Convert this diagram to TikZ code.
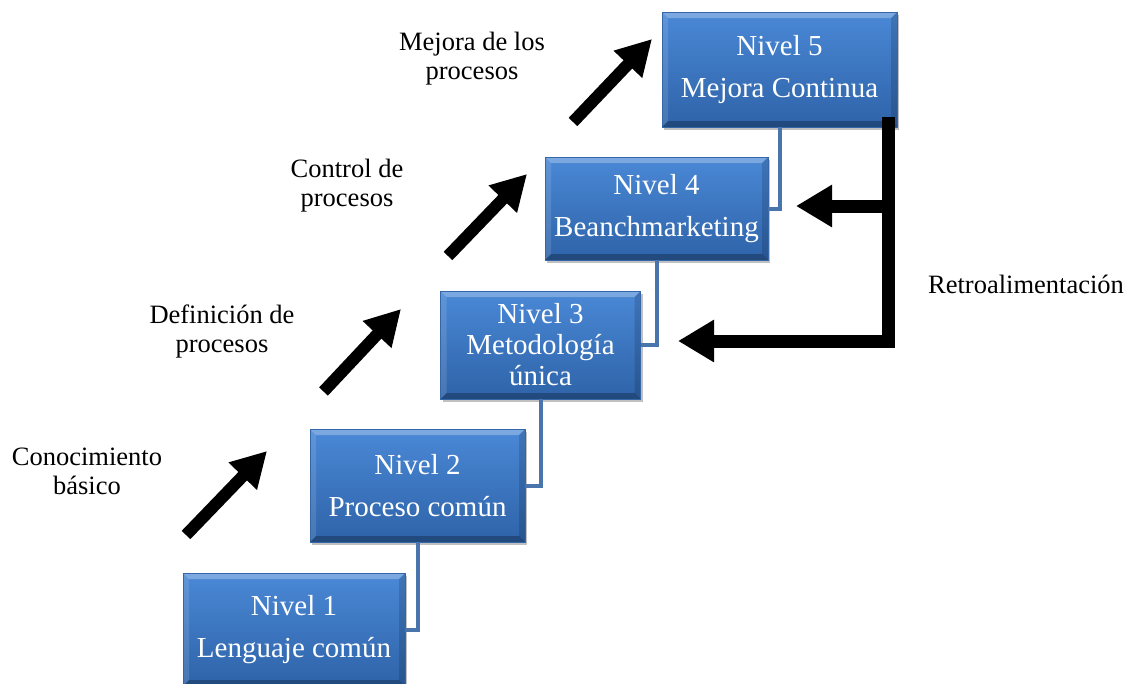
\documentclass[tikz,border=0pt]{standalone}
\usepackage{fontspec}
\setmainfont{Liberation Serif}
\usetikzlibrary{arrows.meta,shadows,calc}

\definecolor{boxtop}{HTML}{4A88D6}
\definecolor{boxbot}{HTML}{2E63A8}
\definecolor{boxedge}{HTML}{3567A8}
\definecolor{linkblue}{HTML}{4A74AC}

\tikzset{
  bevel/.style={
    path picture={
      \path (path picture bounding box.north west) coordinate (nw)
            (path picture bounding box.south east) coordinate (se);
      \coordinate (ne) at (nw -| se);
      \coordinate (sw) at (se -| nw);
      \coordinate (inw) at ($(nw)+(6pt,-6pt)$);
      \coordinate (ine) at ($(ne)+(-6pt,-6pt)$);
      \coordinate (ise) at ($(se)+(-6pt,6pt)$);
      \coordinate (isw) at ($(sw)+(6pt,6pt)$);
      \fill[white,opacity=.28] (nw) -- (ne) -- (ine) -- (inw) -- cycle;
      \fill[white,opacity=.12] (sw) -- (nw) -- (inw) -- (isw) -- cycle;
      \fill[black,opacity=.14] (ne) -- (se) -- (ise) -- (ine) -- cycle;
      \fill[black,opacity=.26] (se) -- (sw) -- (isw) -- (ise) -- cycle;
    }},
  levelbox/.style={rectangle, draw=boxedge, line width=0.6pt,
    top color=boxtop, bottom color=boxbot, text=white,
    font=\fontsize{29}{42}\selectfont, align=center, inner sep=0pt,
    drop shadow={shadow xshift=2pt, shadow yshift=-3pt, opacity=.35, fill=black!70},
    bevel},
  link/.style={draw=linkblue, line width=4pt, line join=miter},
  steparrow/.style={draw=black, line width=12pt,
    -{Triangle[length=35pt,width=37pt]}},
  fbarrow/.style={draw=black, line width=13pt, line join=miter,
    -{Triangle[length=36pt,width=40pt]}},
  sidelabel/.style={font=\fontsize{26.5}{29}\selectfont, align=center, inner sep=0pt},
}

\begin{document}
\begin{tikzpicture}[x=1pt,y=-1pt]
\useasboundingbox[fill=white] (0,0) rectangle (1131,683);

% connectors between consecutive levels (drawn first, boxes cover the ends)
\coordinate (c5) at (779.5,127);
\coordinate (c4) at (656.5,260);
\coordinate (c3) at (540.5,398);
\coordinate (c2) at (417.5,542);

% level boxes
\node[levelbox, minimum width=222, minimum height=113] (b1) at (294,629.5)
  {Nivel 1\\Lenguaje común};
\node[levelbox, minimum width=215, minimum height=113] (b2) at (417.5,485.5)
  {Nivel 2\\Proceso común};
\node[levelbox, minimum width=200, minimum height=108, font=\fontsize{29}{31}\selectfont] (b3) at (540.5,345)
  {Nivel 3\\Metodología\\única};
\node[levelbox, minimum width=223, minimum height=103] (b4) at (656.5,208.5)
  {Nivel 4\\Beanchmarketing};
\node[levelbox, minimum width=235, minimum height=115] (b5) at (779.5,69.5)
  {Nivel 5\\Mejora Continua};

\draw[link] (b5.south) |- (b4.east);
\draw[link] (b4.south) |- (b3.east);
\draw[link] (b3.south) |- (b2.east);
\draw[link] (b2.south) |- (b1.east);

% rising arrows between levels
\coordinate (t1) at (186,535);  \coordinate (h1) at (267,451);
\coordinate (t2) at (323.5,391.5); \coordinate (h2) at (401,309);
\coordinate (t3) at (448,256);  \coordinate (h3) at (527,174);
\coordinate (t4) at (573,122);  \coordinate (h4) at (652,39);
\draw[steparrow] (t1) -- (h1);
\draw[steparrow] (t2) -- (h2);
\draw[steparrow] (t3) -- (h3);
\draw[steparrow] (t4) -- (h4);

% feedback lines
\coordinate (fbtop) at (888,117);
\coordinate (fbmid) at (888,206);
\coordinate (fbbot) at (888,341);
\coordinate (tip4) at (796,206);
\coordinate (tip3) at (678,341);
\draw[fbarrow] (fbtop) -- (fbbot) -- (tip3);
\draw[fbarrow] (fbmid) -- (tip4);

% step labels
\node[sidelabel] (l4) at (472,59) {Mejora de los\\procesos};
\node[sidelabel] (l3) at (347,186) {Control de\\procesos};
\node[sidelabel] (l2) at (222,331) {Definición de\\procesos};
\node[sidelabel] (l1) at (87,471) {Conocimiento\\básico};
\node[sidelabel] (fb) at (1026,284) {Retroalimentación};
\end{tikzpicture}
\end{document}
